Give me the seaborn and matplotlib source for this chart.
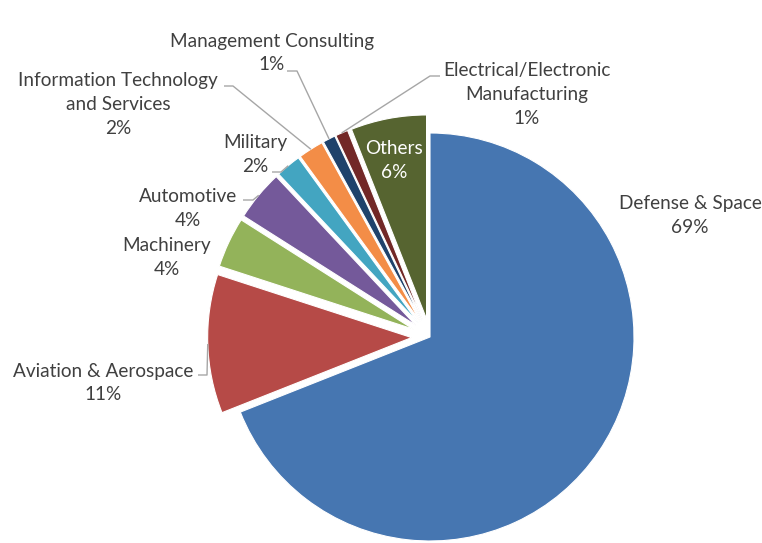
import numpy as np
import matplotlib
matplotlib.use("Agg")
import matplotlib.pyplot as plt
import seaborn as sns

# Industry share of the workforce
industries = [
    "Defense & Space",
    "Aviation & Aerospace",
    "Machinery",
    "Automotive",
    "Military",
    "Information Technology\nand Services",
    "Management Consulting",
    "Electrical/Electronic\nManufacturing",
    "Others",
]
shares = [69, 11, 4, 4, 2, 2, 1, 1, 6]
colors = ["#4676B1", "#B64A47", "#93B35A", "#74599A", "#43A5C1",
          "#F38D47", "#1F426B", "#722827", "#566430"]

sns.set_theme(style="white")
plt.rcParams["font.family"] = ["Lato", "DejaVu Sans"]

W, H = 762, 543
fig = plt.figure(figsize=(W / 100, H / 100), dpi=100)
ax = fig.add_axes([0, 0, 1, 1])

# pie geometry in pixel units
cx, cy, R = 430, 337, 204

explode = [0.0] + [0.09] * (len(shares) - 1)
wedges, _ = ax.pie(shares, colors=colors, startangle=90, counterclock=False,
                   explode=explode, radius=1.0,
                   wedgeprops=dict(edgecolor="white", linewidth=0.8))
ax.set_aspect("auto")
ax.set_xlim(-cx / R, (W - cx) / R)
ax.set_ylim(-(H - cy) / R, cy / R)
ax.axis("off")


def px(x, y):
    """pixel position (from top-left) -> data coordinates"""
    return (x - cx) / R, (cy - y) / R


def wedge_edge(w):
    ang = np.deg2rad((w.theta1 + w.theta2) / 2)
    x0, y0 = w.center
    return x0 + w.r * np.cos(ang), y0 + w.r * np.sin(ang)


text_color = "#404040"
fs = 13.7
ls = 1.5
# label centres (pixels) and optional leader start/elbow points
label_pos = [(690, 216), (103, 383), (167, 258), (188, 208), (255, 155),
             (118, 105), (272, 53), (527, 95), (394, 161)]
leaders = {
    1: [(198, 375), (207, 375)],
    3: [(243, 200), (253, 200)],
    4: [(272, 172), (281, 172)],
    5: [(224, 86), (233, 86)],
    6: [(287, 71), (297, 71)],
    7: [(440, 76), (430, 76)],
}

for i, (name, val) in enumerate(zip(industries, shares)):
    lx, ly = px(*label_pos[i])
    color = "white" if name == "Others" else text_color
    ax.text(lx, ly, f"{name}\n{val}%", ha="center", va="center",
            color=color, fontsize=fs, linespacing=ls)
    if i in leaders:
        pts = [px(*p) for p in leaders[i]] + [wedge_edge(wedges[i])]
        xs, ys = zip(*pts)
        ax.plot(xs, ys, color="#A6A6A6", linewidth=1.0, solid_capstyle="butt")

fig.savefig("out.png", dpi=100, facecolor="white")
